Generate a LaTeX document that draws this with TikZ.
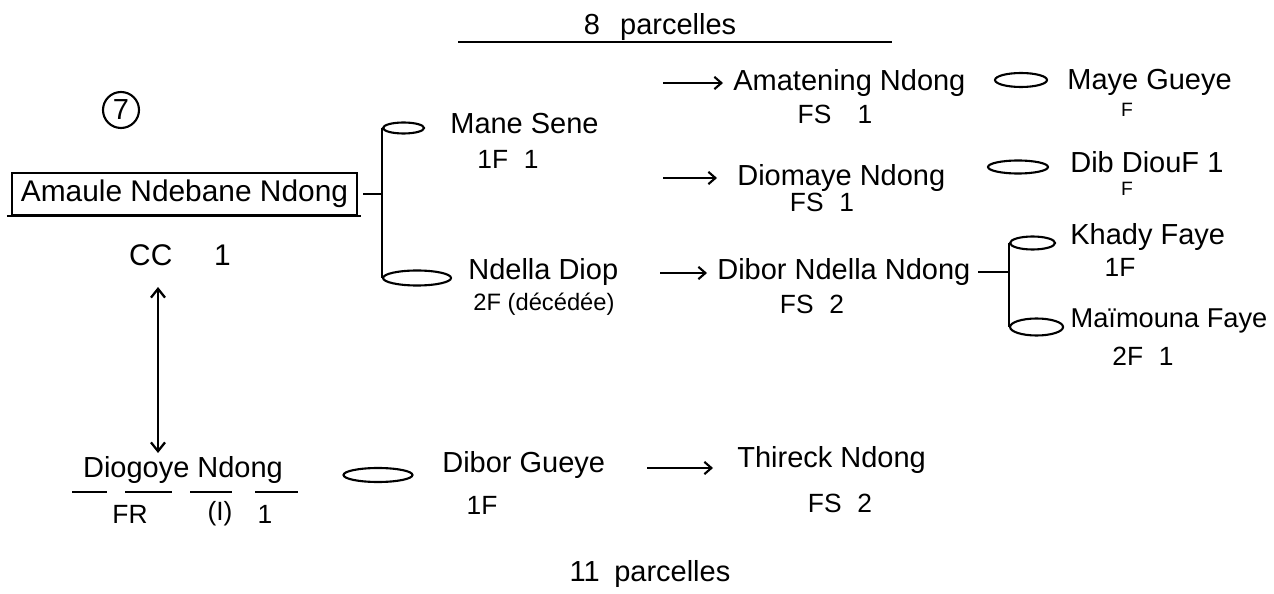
\documentclass[tikz,border=0pt]{standalone}
\usepackage{fontspec}
\setmainfont{Liberation Sans}
\usetikzlibrary{shapes.geometric,arrows.meta}
\begin{document}
\begin{tikzpicture}[x=0.02cm,y=-0.02cm,
  txt/.style={font=\fontsize{16.5}{19}\selectfont, inner sep=0pt},
  bigtxt/.style={font=\fontsize{17}{20}\selectfont, inner sep=0pt},
  subtxt/.style={font=\fontsize{15}{18}\selectfont, inner sep=0pt},
  smalltxt/.style={font=\fontsize{11}{13}\selectfont, inner sep=0pt},
  union/.style={draw, ellipse, inner sep=0pt, line width=1.2pt},
  link/.style={line width=1.3pt},
  arr/.style={line width=1.2pt, -{Straight Barb[length=4pt,width=7pt]}},
  darr/.style={line width=1.3pt, {Straight Barb[length=5pt,width=8pt]}-{Straight Barb[length=5pt,width=8pt]}},
]
\fill[white] (0,0) rectangle (1274,594);
\useasboundingbox (0,0) rectangle (1274,594);

% title
\node[txt] (title) at (660,27) {8\hspace{0.7em}parcelles};
\draw[link] (458,42) -- (892,42);

% circled 7
\node[draw, circle, line width=1.2pt, minimum size=0.72cm, inner sep=0pt, txt] (seven) at (121,110) {7};

% root
\node[draw, line width=1.3pt, minimum width=6.9cm, minimum height=0.84cm, bigtxt] (root) at (184.5,194) {Amaule Ndebane Ndong};
\draw[link] ([xshift=-0.08cm]root.south west) -- ([xshift=0.06cm]root.south east);
\node[bigtxt] (cc) at (180,255) {CC\hspace{1.4em}1};

% left bracket
\coordinate (bt) at (382,128);
\coordinate (bb) at (382,278);
\draw[link] ([xshift=0.1cm]root.east) -- (root.east -| bt);
\draw[link] (bt) -- (bb);
\node[union, minimum width=0.82cm, minimum height=0.22cm, anchor=west] (u1) at (bt) {};
\node[txt, anchor=west] (mane) at (450,124) {Mane Sene};
\node[subtxt] (mane1) at (508,159) {1F\hspace{0.6em}1};
\node[union, minimum width=1.36cm, minimum height=0.3cm, anchor=west] (u2) at (bb) {};
\node[txt, anchor=west] (ndella) at (468,272) {Ndella Diop};
\node[font=\fontsize{13.5}{16}\selectfont, inner sep=0pt] (ndella1) at (544,304) {2F (décédée)};

% Amatening
\coordinate (a1) at (663,83);
\node[txt, anchor=west] (amat) at (733,83) {Amatening Ndong};
\draw[arr, shorten >=0.2cm] (a1) -- (a1 -| amat.west);
\node[subtxt] (amat1) at (835,114) {FS\hspace{1em}1};
\node[union, minimum width=1.04cm, minimum height=0.28cm] (u3) at (1021,80) {};
\node[txt, anchor=west] (maye) at (1067,82) {Maye Gueye};
\node[smalltxt] (maye1) at (1127,110) {F};

% Diomaye
\coordinate (a2) at (663,178);
\node[txt, anchor=west] (diom) at (737,178) {Diomaye Ndong};
\draw[arr, shorten >=0.4cm] (a2) -- (a2 -| diom.west);
\node[subtxt] (diom1) at (822,202) {FS\hspace{0.6em}1};
\node[union, minimum width=1.2cm, minimum height=0.26cm] (u4) at (1018,167) {};
\node[txt, anchor=west] (dib) at (1070,162) {Dib DiouF 1};
\node[smalltxt] (dib1) at (1127,189) {F};

% Dibor Ndella
\coordinate (a3) at (660,273);
\node[txt, anchor=west] (dibor) at (717,272) {Dibor Ndella Ndong};
\draw[arr, shorten >=0.2cm] (a3) -- (a3 -| dibor.west);
\node[subtxt] (dibor1) at (812,304) {FS\hspace{0.6em}2};
\coordinate (rt) at (1009,243);
\coordinate (rb) at (1009,327);
\draw[link] ([xshift=0.15cm]dibor.east) -- (dibor.east -| rt);
\draw[link] (rt) -- (rb);
\node[union, minimum width=0.9cm, minimum height=0.26cm, anchor=west] (u5) at (rt) {};
\node[txt, anchor=west] (khady) at (1070,237) {Khady Faye};
\node[subtxt] (khady1) at (1120,267) {1F};
\node[union, minimum width=1.06cm, minimum height=0.34cm, anchor=west] (u6) at (rb) {};
\node[font=\fontsize{15.5}{18}\selectfont, inner sep=0pt] (maim) at (1169,321) {Maïmouna Faye};
\node[subtxt] (maim1) at (1143,356) {2F\hspace{0.6em}1};

% lower branch
\coordinate (va) at (158,287);
\coordinate (vb) at (158,453);
\draw[darr] (va) -- (vb);
\node[txt] (diog) at (183,470) {Diogoye Ndong};
\draw[link] (72,492) -- (107,492);
\draw[link] (125,492) -- (172,492);
\draw[link] (190,492) -- (232,492);
\draw[link] (255,492) -- (298,492);
\node[subtxt] (fr) at (130,514) {FR};
\node[subtxt] (rom) at (220,514) {(I)};
\node[subtxt] (one) at (265,514) {1};
\node[union, minimum width=1.38cm, minimum height=0.28cm] (u7) at (378,475) {};
\node[txt, anchor=west] (dgueye) at (442,465) {Dibor Gueye};
\node[subtxt] (dgueye1) at (482,505) {1F};
\coordinate (a4) at (647,468);
\node[txt, anchor=west] (thir) at (737,460) {Thireck Ndong};
\draw[arr, shorten >=0.48cm] (a4) -- (a4 -| thir.west);
\node[subtxt] (thir1) at (840,503) {FS\hspace{0.6em}2};

\node[txt] (eleven) at (650,574) {11\hspace{0.5em}parcelles};
\end{tikzpicture}
\end{document}
